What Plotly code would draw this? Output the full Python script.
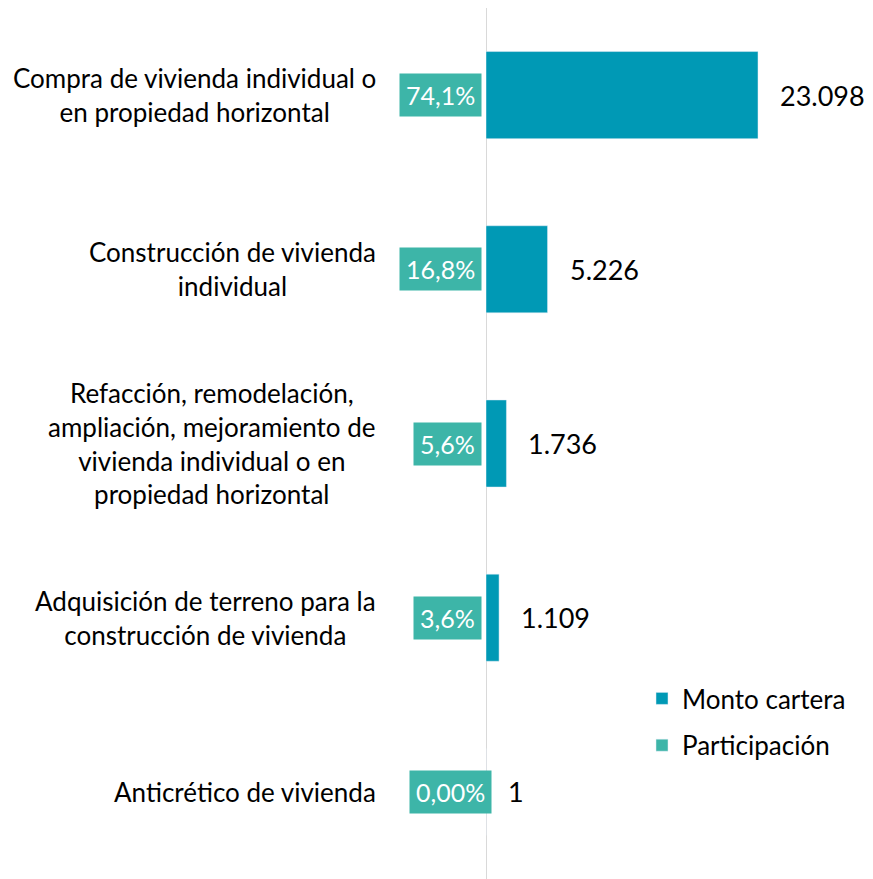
import plotly.graph_objects as go

categories = [
    "Compra de vivienda individual o<br>en propiedad horizontal",
    "Construcción de vivienda<br>individual",
    "Refacción, remodelación,<br>ampliación, mejoramiento de<br>vivienda individual o en<br>propiedad horizontal",
    "Adquisición de terreno para la<br>construcción de vivienda",
    "Anticrético de vivienda",
]
monto_cartera = [23098, 5226, 1736, 1109, 1]
participacion = [74.1, 16.8, 5.6, 3.6, 0.00]
participacion_labels = ["74,1%", "16,8%", "5,6%", "3,6%", "0,00%"]

BAR = "#0099B5"
TEAL = "#3DB5A8"
FONT = "Lato"
# page body has an 8px margin; figure drawn at (8, 8)
W, H = 865, 871
AXIS_X = 478

def fmt_es(v):
    return f"{v:,}".replace(",", ".")

fig = go.Figure()
fig.add_trace(go.Bar(
    y=categories, x=monto_cartera, orientation="h",
    marker=dict(color=BAR), name="Monto cartera", legendgroup="a",
    hoverinfo="skip",
))
# legend entry for participation series
fig.add_trace(go.Bar(
    y=[categories[0]], x=[None], orientation="h",
    marker=dict(color=TEAL), name="Participación", legendgroup="b",
    hoverinfo="skip",
))

x_max = 23098 * (W - AXIS_X) / 272.0

annotations = []
for i, cat in enumerate(categories):
    annotations.append(dict(
        xref="paper", yref="y", x=370 / W, y=cat, xanchor="right",
        yanchor="middle", align="center", text=cat, showarrow=False,
        font=dict(family=FONT, size=26, color="#000000"),
    ))
    shift = 6 if i == len(categories) - 1 else -4
    annotations.append(dict(
        xref="x", yref="y", x=0, y=cat, xanchor="right", yanchor="middle",
        xshift=shift, text=participacion_labels[i], showarrow=False,
        bgcolor=TEAL, borderpad=6,
        font=dict(family=FONT, size=25, color="#FFFFFF"),
    ))
    annotations.append(dict(
        xref="x", yref="y", x=monto_cartera[i], y=cat, xanchor="left",
        yanchor="middle", xshift=20, text=fmt_es(monto_cartera[i]),
        showarrow=False, font=dict(family=FONT, size=27, color="#000000"),
    ))

fig.update_layout(
    width=W, height=H,
    margin=dict(l=0, r=0, t=0, b=0),
    paper_bgcolor="white", plot_bgcolor="white",
    bargap=0.5, barmode="overlay",
    xaxis=dict(domain=[AXIS_X / W, 1], range=[0, x_max], showgrid=False,
               zeroline=False, showticklabels=False, showline=False),
    yaxis=dict(range=[4.5, -0.5], showgrid=False, zeroline=False,
               showticklabels=False, showline=False),
    shapes=[dict(type="line", xref="x", yref="paper", x0=0, x1=0, y0=0, y1=1,
                 line=dict(color="#D9D9D9", width=2), layer="below")],
    annotations=annotations,
    showlegend=True,
    legend=dict(x=634 / W, y=1 - 667 / H, xanchor="left", yanchor="top",
                font=dict(family=FONT, size=26, color="#000000"),
                bgcolor="rgba(0,0,0,0)", tracegroupgap=10, traceorder="grouped"),
)

fig.write_html("out.html")
